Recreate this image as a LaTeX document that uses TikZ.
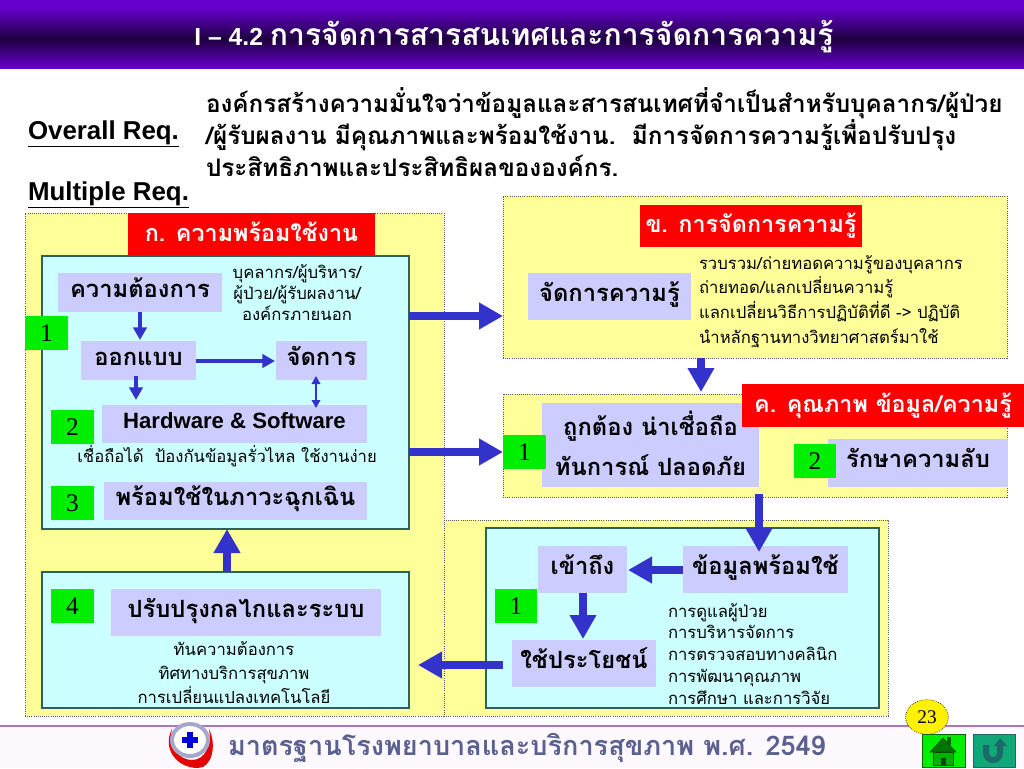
\documentclass[tikz,border=0pt]{standalone}
\usepackage{fontspec}
\setmainfont{Liberation Sans}
\newfontfamily\thai[Script=Thai]{Loma}
\newfontfamily\numf{Liberation Serif}
\usetikzlibrary{arrows.meta,shapes.geometric,calc}
\definecolor{panelY}{HTML}{FFFF99}
\definecolor{cyanB}{HTML}{CCFFFF}
\definecolor{cyanE}{HTML}{2F5F5F}
\definecolor{lav}{HTML}{CCCCFF}
\definecolor{arrowB}{HTML}{3333CC}
\definecolor{greenN}{HTML}{00EE00}
\definecolor{purpL}{HTML}{6600CC}
\definecolor{purpD}{HTML}{1E0040}
\definecolor{footT}{HTML}{5A6090}
\definecolor{footL}{HTML}{A878B8}
\definecolor{footB}{HTML}{FEF9FE}
\definecolor{tealB}{HTML}{10A878}
\definecolor{tealD}{HTML}{1A6A6A}
\newcommand{\fs}[1]{\fontsize{#1}{#1}\selectfont}
\newcommand{\bx}[7]{%
  \pgfmathsetmacro{\cxx}{(#3+#5)/2}\pgfmathsetmacro{\cyy}{(#4+#6)/2}%
  \pgfmathsetmacro{\wdd}{(#5-#3)*0.75}\pgfmathsetmacro{\htt}{(#6-#4)*0.75}%
  \node[#2,minimum width=\wdd pt,minimum height=\htt pt] (#1) at (\cxx,\cyy) {#7};}
\tikzset{
  x=0.75pt,y=-0.75pt,
  allbox/.style={inner sep=0pt,outer sep=0pt,align=center},
  panel/.style={allbox,fill=panelY,draw=black!65,densely dotted,line width=0.6pt},
  cyanbox/.style={allbox,fill=cyanB,draw=cyanE,line width=1pt},
  redbox/.style={allbox,fill=red,text=white,font=\thai\bfseries\fs{17.5},text height=13.5pt,text depth=3.1pt},
  lavbox/.style={allbox,fill=lav,text=black,font=\thai\bfseries\fs{17.8},text height=13pt,text depth=6.2pt},
  greenbox/.style={allbox,fill=greenN,text=black,font=\numf\fs{19}},
  basetxt/.style={inner sep=0pt,outer sep=0pt,text=black,align=center},
  txt/.style={basetxt,font=\thai\fs{12.5},text height=10.5pt,text depth=1.5pt},
  lefttxt/.style={txt,anchor=west,align=left},
  headtxt/.style={basetxt,anchor=west,align=left},
  reqtxt/.style={headtxt,font=\thai\bfseries\fs{18.2},text height=14pt,text depth=3.5pt},
  latinhead/.style={headtxt,font=\fontspec{Liberation Sans Bold}\fs{19.4}},
  bigarrow/.style={draw=arrowB,line width=6.2pt,-{Triangle[length=18pt,width=19pt]}},
  midarrow/.style={draw=arrowB,line width=3pt,-{Triangle[length=9.5pt,width=10pt]}},
  dblarrow/.style={draw=arrowB,line width=1.3pt,{Triangle[length=6pt,width=6.5pt]}-{Triangle[length=6pt,width=6.5pt]}},
}
\begin{document}
\begin{tikzpicture}
\useasboundingbox (0,0) rectangle (1024,768);
\fill[white] (0,0) rectangle (1024,768);
% header
\fill[top color=purpL,bottom color=purpD] (0,8) rectangle (1024,39);
\fill[purpL] (0,0) rectangle (1024,8.5);
\fill[top color=purpD,bottom color=purpL] (0,38.8) rectangle (1024,68);
\node[basetxt,text=white,font=\thai\bfseries\fs{22.6}] (title) at (514,37) {{\fontspec{Liberation Sans Bold}\fs{18.5}I – 4.2 }การจัดการสารสนเทศและการจัดการความรู้};
% requirement text
\node[latinhead] (overall) at (28,134) {\underline{Overall Req.}};
\node[latinhead] (multiple) at (28,195) {\underline{Multiple Req.}};
\node[reqtxt] (reqA) at (206,105) {องค์กรสร้างความมั่นใจว่าข้อมูลและสารสนเทศที่จำเป็นสำหรับบุคลากร/ผู้ป่วย};
\node[reqtxt] (reqB) at (206,137) {/ผู้รับผลงาน มีคุณภาพและพร้อมใช้งาน.~~มีการจัดการความรู้เพื่อปรับปรุง};
\node[reqtxt] (reqC) at (206,169) {ประสิทธิภาพและประสิทธิผลขององค์กร.};
% panels
\bx{panelA}{panel}{25}{213}{444}{716}{}
\bx{panelD}{panel}{444}{520}{888}{716}{}
\bx{panelB}{panel}{503}{196}{1007}{358}{}
\bx{panelC}{panel}{503}{394}{1007}{497}{}
% left column
\bx{redA}{redbox}{128}{213}{375}{256}{ก. ความพร้อมใช้งาน}
\bx{boxA}{cyanbox}{42}{256}{409}{529}{}
\bx{boxImp}{cyanbox}{42}{572}{409}{708}{}
\bx{need}{lavbox}{58}{273}{222}{312}{ความต้องการ}
\node[txt] (peopleA) at (297,272) {บุคลากร/ผู้บริหาร/};
\node[txt] (peopleB) at (297,293) {ผู้ป่วย/ผู้รับผลงาน/};
\node[txt] (peopleC) at (297,314) {องค์กรภายนอก};
\bx{gA}{greenbox}{25}{316}{68}{350}{1}
\bx{design}{lavbox}{81}{341}{196}{380}{ออกแบบ}
\bx{manage}{lavbox}{276}{341}{367}{380}{จัดการ}
\bx{hw}{lavbox}{102}{405}{367}{443}{\fontspec{Liberation Sans Bold}\fs{16.6}Hardware \& Software}
\bx{gB}{greenbox}{51}{410}{94}{444}{2}
\node[txt] (reliable) at (227,456) {เชื่อถือได้~~ป้องกันข้อมูลรั่วไหล ใช้งานง่าย};
\bx{ready}{lavbox}{104}{482}{367}{520}{พร้อมใช้ในภาวะฉุกเฉิน}
\bx{gC}{greenbox}{51}{486}{94}{520}{3}
\bx{gD}{greenbox}{51}{589}{94}{623}{4}
\bx{improve}{lavbox}{111}{589}{381}{636}{ปรับปรุงกลไกและระบบ}
\node[txt] (impA) at (234,649) {ทันความต้องการ};
\node[txt] (impB) at (234,673) {ทิศทางบริการสุขภาพ};
\node[txt] (impC) at (234,697) {การเปลี่ยนแปลงเทคโนโลยี};
% right top
\bx{redB}{redbox}{640}{205}{862}{247}{ข. การจัดการความรู้}
\bx{km}{lavbox}{528}{273}{691}{320}{จัดการความรู้}
\node[lefttxt] (kmA) at (699,263) {รวบรวม/ถ่ายทอดความรู้ของบุคลากร};
\node[lefttxt] (kmB) at (699,287) {ถ่ายทอด/แลกเปลี่ยนความรู้};
\node[lefttxt] (kmC) at (699,312) {แลกเปลี่ยนวิธีการปฏิบัติที่ดี -> ปฏิบัติ};
\node[lefttxt] (kmD) at (699,337) {นำหลักฐานทางวิทยาศาสตร์มาใช้};
% right middle
\bx{correct}{lavbox,text height=,text depth=}{542}{403}{759}{487}{\raisebox{3pt}{\shortstack{ถูกต้อง น่าเชื่อถือ\\[7pt]ทันการณ์ ปลอดภัย}}}
\bx{redC}{redbox}{742}{384}{1024}{427}{ค. คุณภาพ ข้อมูล/ความรู้}
\bx{gE}{greenbox}{503}{435}{546}{469}{1}
\bx{secret}{lavbox}{828}{439}{1008}{487}{รักษาความลับ}
\bx{gF}{greenbox}{794}{444}{836}{478}{2}
% right bottom
\bx{boxD}{cyanbox}{486}{528}{879}{708}{}
\bx{access}{lavbox}{538}{546}{627}{593}{เข้าถึง}
\bx{data}{lavbox}{683}{546}{848}{593}{ข้อมูลพร้อมใช้}
\bx{gG}{greenbox}{495}{589}{537}{623}{1}
\bx{use}{lavbox}{512}{640}{656}{687}{ใช้ประโยชน์}
\node[lefttxt] (useA) at (668,611) {การดูแลผู้ป่วย};
\node[lefttxt] (useB) at (668,632) {การบริหารจัดการ};
\node[lefttxt] (useC) at (668,654) {การตรวจสอบทางคลินิก};
\node[lefttxt] (useD) at (668,676) {การพัฒนาคุณภาพ};
\node[lefttxt] (useE) at (668,698) {การศึกษา และการวิจัย};
% port coordinates
\coordinate (pa) at (503,316);
\coordinate (pb) at (503,452);
\coordinate (pc) at (701,392);
\coordinate (pd) at (759,552);
\coordinate (pe) at (227,529);
\coordinate (pf) at (418,665);
\coordinate (ps) at (503,665);
\coordinate (pg) at (136,400);
\coordinate (ph) at (316,408);
\coordinate (pi) at (140,340);
\coordinate (pj) at (275,361);
\coordinate (pk) at (583,639);
\coordinate (pl) at (628,570);
% connectors
\draw[midarrow] (pi |- need.south) -- (pi);
\draw[midarrow] (design.east |- pj) -- (pj);
\draw[midarrow] (pg |- design.south) ++(0,-4) -- (pg);
\draw[dblarrow] (ph |- manage.south) ++(0,-4) -- (ph);
\draw[bigarrow] (boxA.east |- pa) -- (panelB.west |- pa);
\draw[bigarrow] (boxA.east |- pb) -- (panelC.west |- pb);
\draw[bigarrow] (pc |- panelB.south) -- (pc);
\draw[bigarrow] (pd |- panelC.south) ++(0,-3) -- (pd);
\draw[bigarrow] (data.west |- pl) -- (pl);
\draw[bigarrow] (pk |- access.south) -- (pk);
\draw[bigarrow] (ps) -- (pf);
\draw[bigarrow] (pe |- boxImp.north) -- (pe);
% footer
\fill[footB] (0,727) rectangle (1024,768);
\draw[draw=footL,line width=2pt] (0,726) -- (1024,726);
% logo
\fill[red!90!black] (172,729) .. controls (162,748) and (176,768) .. (198,768) .. controls (212,768) and (217,745) .. (209,729) .. controls (212,745) and (205,760) .. (192,760) .. controls (180,760) and (168,748) .. (172,729) -- cycle;
\node[ellipse,draw=blue!25!gray!55!white,fill=white,line width=3pt,minimum width=27pt,minimum height=24pt,inner sep=0pt] (logo) at (190,740) {};
\fill[blue!85!black] (187,732) rectangle (193,748);
\fill[blue!85!black] (182,737) rectangle (198,743);
\node[headtxt,text=footT,font=\thai\bfseries\fs{20.3}] (foot) at (228,748) {มาตรฐานโรงพยาบาลและบริการสุขภาพ พ.ศ. 2549};
\node[ellipse,draw=black,fill=yellow,line width=0.5pt,densely dotted,minimum width=32pt,minimum height=26pt,inner sep=0pt,font=\numf\fs{14.5}] (page) at (927,717) {23};
% buttons
\bx{home}{allbox,fill=greenN,draw=black!60!green}{922}{734}{965}{767}{}
\fill[green!40!black] (947,737) rectangle (951,745);
\fill[green!70!black,draw=green!30!black] (933,752) rectangle (953,765);
\fill[green!45!black,draw=green!30!black] (930,752) -- (943,738) -- (956,752) -- cycle;
\fill[green!30!black] (941,758) rectangle (946,765);
\bx{uturn}{allbox,fill=tealB,draw=tealD}{973}{734}{1015}{767}{}
\draw[draw=tealD,line width=4.5pt] (986,745) -- (986,753) arc[start angle=180,end angle=0,radius=7] -- (1000,745);
\fill[tealD] (994,746) -- (1000,738) -- (1007,746) -- cycle;
\end{tikzpicture}
\end{document}
